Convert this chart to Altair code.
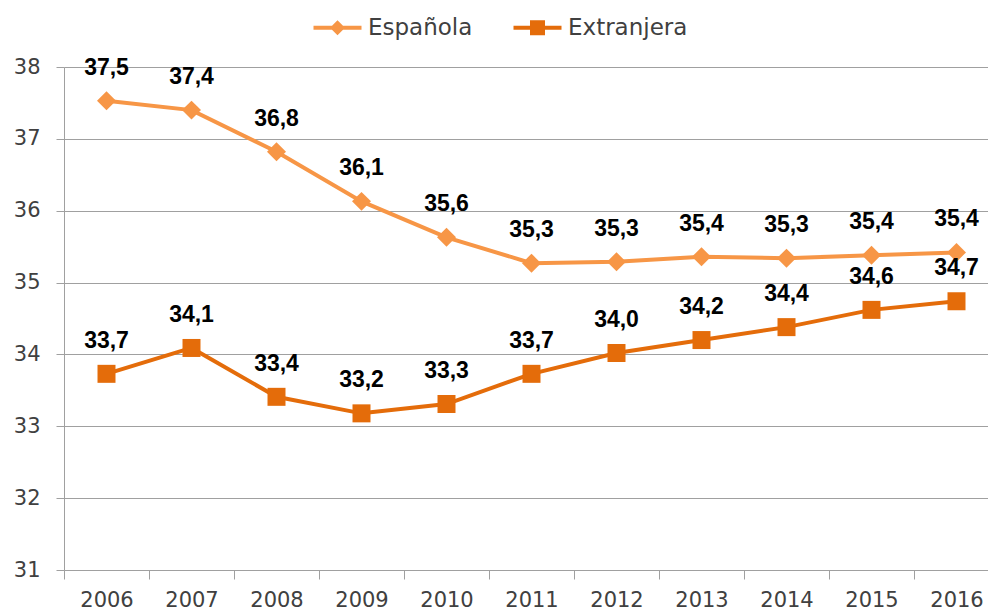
import altair as alt
import pandas as pd

years = [2006, 2007, 2008, 2009, 2010, 2011, 2012, 2013, 2014, 2015, 2016]
espanola = [37.53, 37.40, 36.82, 36.13, 35.63, 35.27, 35.29, 35.36, 35.34, 35.38, 35.42]
extranjera = [33.73, 34.09, 33.41, 33.18, 33.31, 33.73, 34.02, 34.20, 34.38, 34.62, 34.74]
series_names = ["Española", "Extranjera"]
series_colors = ["#F79646", "#E46C0A"]

rows = []
for name, vals in zip(series_names, [espanola, extranjera]):
    for y, v in zip(years, vals):
        rows.append({"year": y, "value": v, "serie": name})
df = pd.DataFrame(rows)

FONT = "DejaVu Sans"
TXT = "#404040"
GRID = "#A0A0A0"

x_enc = alt.X(
    "year:O",
    scale=alt.Scale(type="band", range=[0, 935], paddingInner=0, paddingOuter=0),
    axis=alt.Axis(
        title=None, grid=False, tickBand="extent", tickSize=9, tickColor=GRID,
        domainColor=GRID, labelPadding=10, labelFont=FONT, labelFontSize=21,
        labelColor=TXT, labelAngle=0,
    ),
)
y_enc = alt.Y(
    "value:Q",
    scale=alt.Scale(domain=[31, 38], nice=False, zero=False),
    axis=alt.Axis(
        title=None, values=list(range(31, 39)), grid=True, gridColor=GRID,
        tickColor=GRID, tickSize=8, domainColor=GRID, labelPadding=16,
        labelFont=FONT, labelFontSize=21, labelColor=TXT,
    ),
)

base = alt.Chart(df)
layers = []
shapes = ["diamond", "square"]
sizes = [360, 324]
for name, col, shp, sz in zip(series_names, series_colors, shapes, sizes):
    sub = base.transform_filter(alt.datum.serie == name)
    layers.append(sub.mark_line(color=col, strokeWidth=4).encode(x=x_enc, y=y_enc))
    layers.append(sub.mark_point(shape=shp, filled=True, opacity=1, color=col, size=sz).encode(x=x_enc, y=y_enc))
    layers.append(
        sub.transform_calculate(lab="replace(format(datum.value, '.1f'), '.', ',')")
        .mark_text(font="Liberation Sans", fontWeight="bold", fontSize=23, color="#000000",
                   dy=-26, baseline="alphabetic")
        .encode(x=x_enc, y=y_enc, text="lab:N")
    )

path_esp = ("M-2.4,-0.2L-0.55,-0.2L0,-0.75L0.55,-0.2L2.4,-0.2L2.4,0.2L0.55,0.2L0,0.75"
            "L-0.55,0.2L-2.4,0.2Z")
path_ext = ("M-2.4,-0.2L-0.75,-0.2L-0.75,-0.75L0.75,-0.75L0.75,-0.2L2.4,-0.2L2.4,0.2"
            "L0.75,0.2L0.75,0.75L-0.75,0.75L-0.75,0.2L-2.4,0.2Z")

leg = alt.Legend(
    title=None, orient="none", direction="horizontal", legendX=262, legendY=-51,
    labelFont=FONT, labelFontSize=23, labelColor=TXT, labelOffset=19,
    columnPadding=40, symbolSize=400, symbolStrokeWidth=0, padding=0,
)
legend_layer = base.transform_filter("false").mark_point(filled=True, size=400, opacity=1).encode(
    x=x_enc, y=y_enc,
    color=alt.Color("serie:N", scale=alt.Scale(domain=series_names, range=series_colors), legend=leg),
    shape=alt.Shape("serie:N", scale=alt.Scale(domain=series_names, range=[path_esp, path_ext]), legend=leg),
)
layers.append(legend_layer)

chart = alt.layer(*layers).properties(
    width=924, height=503,
    autosize=alt.AutoSizeParams(type="none"),
    padding={"left": 64, "top": 67, "right": 0, "bottom": 42},
    background="white",
).configure_view(stroke=None)

chart.save("out.html", embed_options={"renderer": "svg", "actions": False})
